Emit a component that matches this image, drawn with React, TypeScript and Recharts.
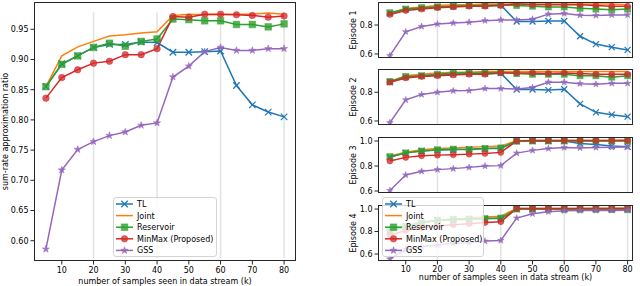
import { LineChart, Line, XAxis, YAxis, ReferenceLine } from 'recharts';

const SAMPLES = [5, 10, 15, 20, 25, 30, 35, 40, 45, 50, 55, 60, 65, 70, 75, 80];

// overall sum-rate ratio (left plot)
const TL_ALL = [0.855, 0.893, 0.906, 0.92, 0.925, 0.925, 0.929, 0.928, 0.912, 0.912, 0.913, 0.914, 0.857, 0.825, 0.813, 0.805];
const JOINT_ALL = [0.855, 0.906, 0.921, 0.93, 0.939, 0.941, 0.944, 0.946, 0.973, 0.975, 0.974, 0.974, 0.975, 0.975, 0.977, 0.975];
const RES_ALL = [0.855, 0.892, 0.906, 0.92, 0.927, 0.922, 0.93, 0.934, 0.967, 0.966, 0.964, 0.964, 0.958, 0.958, 0.954, 0.959];
const MINMAX_ALL = [0.836, 0.87, 0.883, 0.894, 0.897, 0.908, 0.908, 0.918, 0.971, 0.97, 0.975, 0.975, 0.974, 0.973, 0.97, 0.972];
const GSS_ALL = [0.586, 0.717, 0.751, 0.764, 0.774, 0.78, 0.791, 0.795, 0.871, 0.889, 0.913, 0.92, 0.915, 0.915, 0.918, 0.918];

// per-episode ratios (right plots)
const TL_EP1 = [0.88, 0.91, 0.915, 0.925, 0.93, 0.935, 0.935, 0.937, 0.824, 0.824, 0.828, 0.828, 0.722, 0.668, 0.647, 0.628];
const JOINT_EP1 = [0.88, 0.915, 0.925, 0.935, 0.94, 0.94, 0.945, 0.945, 0.945, 0.945, 0.945, 0.945, 0.945, 0.945, 0.945, 0.94];
const RES_EP1 = [0.885, 0.91, 0.92, 0.925, 0.93, 0.935, 0.935, 0.94, 0.935, 0.93, 0.925, 0.925, 0.915, 0.91, 0.905, 0.91];
const MINMAX_EP1 = [0.873, 0.9, 0.91, 0.92, 0.925, 0.93, 0.93, 0.935, 0.947, 0.94, 0.94, 0.94, 0.94, 0.935, 0.93, 0.93];
const GSS_EP1 = [0.588, 0.753, 0.79, 0.807, 0.814, 0.819, 0.83, 0.835, 0.835, 0.84, 0.875, 0.88, 0.868, 0.866, 0.87, 0.87];

const TL_EP2 = [0.87, 0.905, 0.915, 0.92, 0.925, 0.93, 0.93, 0.933, 0.819, 0.819, 0.815, 0.821, 0.719, 0.66, 0.644, 0.63];
const JOINT_EP2 = [0.875, 0.915, 0.925, 0.935, 0.94, 0.94, 0.945, 0.945, 0.945, 0.945, 0.945, 0.945, 0.945, 0.945, 0.945, 0.945];
const RES_EP2 = [0.875, 0.91, 0.915, 0.925, 0.935, 0.935, 0.935, 0.94, 0.93, 0.925, 0.925, 0.925, 0.915, 0.915, 0.905, 0.915];
const MINMAX_EP2 = [0.87, 0.9, 0.91, 0.915, 0.92, 0.925, 0.925, 0.935, 0.935, 0.935, 0.93, 0.935, 0.93, 0.925, 0.925, 0.925];
const GSS_EP2 = [0.588, 0.747, 0.784, 0.8, 0.81, 0.812, 0.826, 0.826, 0.823, 0.833, 0.87, 0.87, 0.86, 0.856, 0.862, 0.862];

const TL_EP3 = [0.87, 0.905, 0.92, 0.927, 0.93, 0.935, 0.94, 0.94, 1.0, 1.0, 1.0, 1.0, 0.98, 0.972, 0.96, 0.955];
const JOINT_EP3 = [0.88, 0.91, 0.93, 0.94, 0.945, 0.95, 0.955, 0.96, 1.002, 1.005, 1.005, 1.005, 1.005, 1.005, 1.005, 1.008];
const RES_EP3 = [0.875, 0.905, 0.92, 0.93, 0.935, 0.93, 0.94, 0.945, 0.998, 1.0, 1.0, 1.0, 1.0, 1.0, 1.0, 1.0];
const MINMAX_EP3 = [0.84, 0.869, 0.882, 0.887, 0.89, 0.895, 0.9, 0.909, 1.0, 1.005, 1.005, 1.005, 1.005, 1.005, 1.005, 1.005];
const GSS_EP3 = [0.604, 0.728, 0.758, 0.771, 0.779, 0.789, 0.8, 0.803, 0.903, 0.925, 0.94, 0.948, 0.945, 0.948, 0.95, 0.952];

const TL_EP4 = [0.8, 0.85, 0.88, 0.9, 0.905, 0.91, 0.915, 0.915, 1.0, 1.0, 1.0, 1.0, 1.0, 1.0, 1.0, 1.0];
const JOINT_EP4 = [0.8, 0.855, 0.885, 0.9, 0.91, 0.92, 0.93, 0.937, 1.005, 1.005, 1.005, 1.005, 1.005, 1.008, 1.008, 1.01];
const RES_EP4 = [0.8, 0.845, 0.875, 0.9, 0.91, 0.912, 0.915, 0.92, 1.0, 1.0, 1.0, 0.998, 0.998, 0.998, 0.996, 0.995];
const MINMAX_EP4 = [0.77, 0.81, 0.835, 0.85, 0.86, 0.87, 0.88, 0.888, 1.005, 1.005, 1.005, 1.005, 1.005, 1.005, 1.005, 1.005];
const GSS_EP4 = [0.556, 0.64, 0.665, 0.68, 0.695, 0.7, 0.715, 0.721, 0.92, 0.958, 0.976, 0.985, 0.986, 0.988, 0.988, 0.99];

const X_TICKS = [10, 20, 30, 40, 50, 60, 70, 80];
const GRID_X = [20, 40, 60, 80];
const LEFT_Y_TICKS = [0.6, 0.65, 0.7, 0.75, 0.8, 0.85, 0.9, 0.95];
const EP_Y_TICKS_LOW = [0.6, 0.8];
const EP_Y_TICKS_HIGH = [0.6, 0.8, 1.0];

const SERIES = [
  { key: 'tl', name: 'TL', color: '#1f77b4', marker: 'x' },
  { key: 'joint', name: 'Joint', color: '#ff7f0e', marker: 'none' },
  { key: 'reservoir', name: 'Reservoir', color: '#2ca02c', marker: 'square' },
  { key: 'minmax', name: 'MinMax (Proposed)', color: '#d62728', marker: 'circle' },
  { key: 'gss', name: 'GSS', color: '#9467bd', marker: 'star' },
];

const FONT = 'DejaVu Sans';
const TICK = { fontSize: 8, fill: '#000', fontFamily: FONT };

function buildRows(tl: number[], joint: number[], res: number[], mm: number[], gss: number[]) {
  return SAMPLES.map((x, i) => ({ x, tl: tl[i], joint: joint[i], reservoir: res[i], minmax: mm[i], gss: gss[i] }));
}

const ALL_ROWS = buildRows(TL_ALL, JOINT_ALL, RES_ALL, MINMAX_ALL, GSS_ALL);
const EPISODES = [
  { label: 'Episode 1', rows: buildRows(TL_EP1, JOINT_EP1, RES_EP1, MINMAX_EP1, GSS_EP1), domain: [0.572, 0.959], ticks: EP_Y_TICKS_LOW, top: 2 },
  { label: 'Episode 2', rows: buildRows(TL_EP2, JOINT_EP2, RES_EP2, MINMAX_EP2, GSS_EP2), domain: [0.572, 0.962], ticks: EP_Y_TICKS_LOW, top: 69 },
  { label: 'Episode 3', rows: buildRows(TL_EP3, JOINT_EP3, RES_EP3, MINMAX_EP3, GSS_EP3), domain: [0.584, 1.032], ticks: EP_Y_TICKS_HIGH, top: 137 },
  { label: 'Episode 4', rows: buildRows(TL_EP4, JOINT_EP4, RES_EP4, MINMAX_EP4, GSS_EP4), domain: [0.538, 1.036], ticks: EP_Y_TICKS_HIGH, top: 205 },
];

function Marker({ shape, cx, cy, color, size }: { shape: string; cx: number; cy: number; color: string; size: number }) {
  if (cx == null || cy == null) return null;
  const r = size / 2;
  if (shape === 'x') {
    return (
      <g stroke={color} strokeWidth={1.2}>
        <line x1={cx - r} y1={cy - r} x2={cx + r} y2={cy + r} />
        <line x1={cx - r} y1={cy + r} x2={cx + r} y2={cy - r} />
      </g>
    );
  }
  if (shape === 'square') {
    return <rect x={cx - r} y={cy - r} width={size} height={size} fill={color} fillOpacity={0.8} stroke={color} strokeOpacity={0.5} />;
  }
  if (shape === 'circle') {
    return <circle cx={cx} cy={cy} r={r} fill={color} fillOpacity={0.75} stroke={color} strokeOpacity={0.5} />;
  }
  if (shape === 'star') {
    const pts: string[] = [];
    const R = r * 1.15;
    for (let i = 0; i < 10; i++) {
      const rr = i % 2 === 0 ? R : R * 0.4;
      const a = -Math.PI / 2 + (i * Math.PI) / 5;
      pts.push(`${cx + rr * Math.cos(a)},${cy + rr * Math.sin(a)}`);
    }
    return <polygon points={pts.join(' ')} fill={color} fillOpacity={0.85} stroke={color} strokeWidth={0.5} />;
  }
  return null;
}

function renderLines(markerSize: number) {
  return SERIES.map((s) => (
    <Line
      key={s.key}
      type="linear"
      dataKey={s.key}
      name={s.name}
      stroke={s.color}
      strokeWidth={1.5}
      isAnimationActive={false}
      activeDot={false}
      dot={
        s.marker === 'none'
          ? false
          : (p: any) => <Marker key={`${s.key}-${p.index}`} shape={s.marker} cx={p.cx} cy={p.cy} color={s.color} size={markerSize} />
      }
    />
  ));
}

function LegendBox({ left, top, width, height }: { left: number; top: number; width: number; height: number }) {
  return (
    <div
      style={{
        position: 'absolute',
        left,
        top,
        width,
        height,
        background: 'rgba(255,255,255,0.8)',
        border: '1px solid #d4d4d4',
        borderRadius: 3,
        boxSizing: 'border-box',
      }}
    >
      <svg width={width} height={height} style={{ position: 'absolute', left: -1, top: -1 }}>
        {SERIES.map((s, i) => {
          const y = 7 + i * 11.6;
          return (
            <g key={s.key}>
              <line x1={3} y1={y} x2={20} y2={y} stroke={s.color} strokeWidth={1.5} />
              <Marker shape={s.marker} cx={11.5} cy={y} color={s.color} size={6.5} />
              <text x={24} y={y + 3} fontSize={8} fontFamily={FONT} fill="#000">
                {s.name}
              </text>
            </g>
          );
        })}
      </svg>
    </div>
  );
}

function Frame({ left, top, width, height }: { left: number; top: number; width: number; height: number }) {
  return (
    <div
      style={{ position: 'absolute', left, top, width, height, border: '1px solid #262626', boxSizing: 'border-box', pointerEvents: 'none' }}
    />
  );
}

function OverallChart() {
  return (
    <div style={{ position: 'absolute', left: 0, top: 0 }}>
      <LineChart width={330} height={286} data={ALL_ROWS} margin={{ top: 2, right: 34, bottom: 0, left: 0 }}>
        <XAxis
          dataKey="x"
          type="number"
          domain={[1.25, 83.75]}
          ticks={X_TICKS}
          allowDataOverflow
          height={25}
          axisLine={false}
          tickLine={{ stroke: '#262626' }}
          tickSize={3.5}
          tickMargin={3}
          tick={TICK}
          label={{ value: 'number of samples seen in data stream (k)', position: 'insideBottom', offset: 2, style: { fontSize: 8, fontFamily: FONT, fill: '#000' } }}
        />
        <YAxis
          type="number"
          domain={[0.5664, 0.9952]}
          ticks={LEFT_Y_TICKS}
          allowDataOverflow
          width={34}
          axisLine={false}
          tickLine={{ stroke: '#262626' }}
          tickSize={3.5}
          tickMargin={2}
          tick={TICK}
          tickFormatter={(v: number) => v.toFixed(2)}
          label={{ value: 'sum-rate approximation ratio', angle: -90, position: 'insideLeft', offset: 5, style: { textAnchor: 'middle', fontSize: 8, fontFamily: FONT, fill: '#000' } }}
        />
        {GRID_X.map((gx) => (
          <ReferenceLine
            key={gx}
            segment={[{ x: gx, y: 0.5714 }, { x: gx, y: 0.978 }]}
            stroke="#e2e2e2"
            strokeWidth={1.5}
          />
        ))}
        {renderLines(6.5)}
      </LineChart>
      <Frame left={34} top={2} width={262} height={259} />
      <LegendBox left={113} top={197} width={104} height={60} />
    </div>
  );
}

function EpisodeChart({ ep, last }: { ep: (typeof EPISODES)[number]; last: boolean }) {
  const plotH = 56;
  const axisH = last ? 25 : 4;
  return (
    <div style={{ position: 'absolute', left: 330, top: ep.top }}>
      <LineChart width={310} height={plotH + axisH} data={ep.rows} margin={{ top: 0, right: 7, bottom: 0, left: 0 }}>
        <XAxis
          dataKey="x"
          type="number"
          domain={[1.25, 81.7]}
          ticks={X_TICKS}
          allowDataOverflow
          height={axisH}
          axisLine={false}
          tickLine={{ stroke: '#262626' }}
          tickSize={3.5}
          tickMargin={1.5}
          tick={last ? TICK : false}
          label={
            last
              ? { value: 'number of samples seen in data stream (k)', position: 'insideBottom', offset: 6.5, style: { fontSize: 8, fontFamily: FONT, fill: '#000' } }
              : undefined
          }
        />
        <YAxis
          type="number"
          domain={ep.domain}
          ticks={ep.ticks}
          allowDataOverflow
          width={48}
          axisLine={false}
          tickLine={{ stroke: '#262626' }}
          tickSize={3.5}
          tickMargin={2}
          tick={TICK}
          tickFormatter={(v: number) => v.toFixed(1)}
          label={{ value: ep.label, angle: -90, position: 'insideLeft', offset: 23, style: { textAnchor: 'middle', fontSize: 8, fontFamily: FONT, fill: '#000' } }}
        />
        {GRID_X.map((gx) => (
          <ReferenceLine key={gx} x={gx} stroke="#e2e2e2" strokeWidth={1.5} />
        ))}
        {renderLines(6)}
      </LineChart>
      <Frame left={48} top={0} width={255} height={plotH} />
    </div>
  );
}

export default function App() {
  return (
    <div style={{ position: 'absolute', left: 0, top: 0, width: 640, height: 286, background: '#fff', fontFamily: FONT, overflow: 'hidden' }}>
      <OverallChart />
      {EPISODES.map((ep, i) => (
        <EpisodeChart key={ep.label} ep={ep} last={i === EPISODES.length - 1} />
      ))}
      <LegendBox left={382} top={197} width={102} height={60} />
    </div>
  );
}
